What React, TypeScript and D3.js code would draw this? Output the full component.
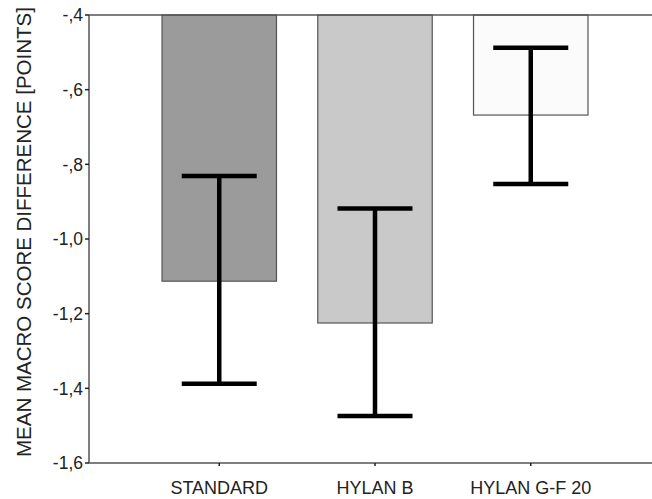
import React from 'react';
import * as d3 from 'd3';

const categories = ['STANDARD', 'HYLAN B', 'HYLAN G-F 20'];
const means = [-1.113, -1.225, -0.668];
const errHigh = [-0.831, -0.918, -0.488];
const errLow = [-1.388, -1.474, -0.853];
const barColors = ['#9b9b9b', '#c9c9c9', '#fbfbfb'];
const yTicks = [-0.4, -0.6, -0.8, -1.0, -1.2, -1.4, -1.6];

const width = 652;
const height = 499;
const axisX = 89;
const top = 15;
const bottom = 463;

const y = d3.scaleLinear().domain([-0.4, -1.6]).range([top, bottom]);
const x = d3.scaleBand<string>()
    .domain(categories)
    .range([162, 588])
    .paddingInner(0.265)
    .paddingOuter(0);

// SPSS style: "-,4" / "-1,0"
const fmt = (v: number) => {
    let s = d3.format('.1f')(Math.abs(v)).replace('.', ',');
    if (s.startsWith('0,')) s = s.slice(1);
    return (v < 0 ? '-' : '') + s;
};

export default function App() {
    const capW = 75;
    return (
        <svg width={width} height={height} style={{ position: 'absolute', left: 0, top: 0 }}
            fontFamily="Liberation Sans, Arial, sans-serif">
            {/* bars */}
            {categories.map((c, i) => (
                <rect key={c}
                    x={x(c)} y={y(-0.4)}
                    width={x.bandwidth()} height={y(means[i]) - y(-0.4)}
                    fill={barColors[i]} stroke="#555" strokeWidth={1.2} />
            ))}
            {/* error bars */}
            {categories.map((c, i) => {
                const cx = (x(c) as number) + x.bandwidth() / 2;
                return (
                    <g key={c} stroke="#000" strokeWidth={4.5}>
                        <line x1={cx} x2={cx} y1={y(errHigh[i])} y2={y(errLow[i])} />
                        <line x1={cx - capW / 2} x2={cx + capW / 2} y1={y(errHigh[i])} y2={y(errHigh[i])} />
                        <line x1={cx - capW / 2} x2={cx + capW / 2} y1={y(errLow[i])} y2={y(errLow[i])} />
                    </g>
                );
            })}
            {/* frame lines */}
            <line x1={axisX} x2={width} y1={top} y2={top} stroke="#555" strokeWidth={1.5} />
            <line x1={axisX} x2={width} y1={bottom} y2={bottom} stroke="#555" strokeWidth={1.5} />
            <line x1={axisX} x2={axisX} y1={top} y2={bottom} stroke="#555" strokeWidth={1.5} />
            {/* y ticks */}
            {yTicks.map(t => (
                <g key={t}>
                    <line x1={axisX - 4} x2={axisX} y1={y(t)} y2={y(t)} stroke="#222" strokeWidth={1.5} />
                    <text x={axisX - 6} y={y(t)} dy="0.36em" textAnchor="end" fontSize={17.5} fill="#222">{fmt(t)}</text>
                </g>
            ))}
            {/* x ticks */}
            {categories.map(c => {
                const cx = (x(c) as number) + x.bandwidth() / 2;
                return (
                    <g key={c}>
                        <line x1={cx} x2={cx} y1={bottom} y2={bottom + 3} stroke="#222" strokeWidth={1.5} />
                        <text x={cx} y={494} textAnchor="middle" fontSize={18} fill="#222">{c}</text>
                    </g>
                );
            })}
            <text transform={`translate(31, 232) rotate(-90)`} textAnchor="middle"
                fontSize={20.5} fill="#222">MEAN MACRO SCORE DIFFERENCE [POINTS]</text>
        </svg>
    );
}
